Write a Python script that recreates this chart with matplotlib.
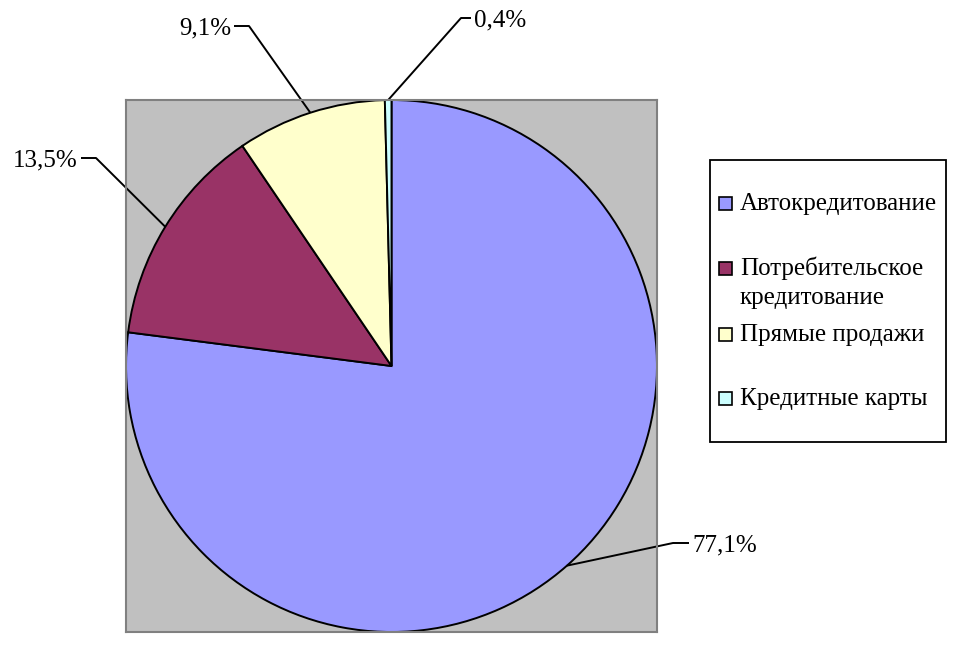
import numpy as np
import matplotlib.pyplot as plt
from matplotlib.patches import Rectangle

###########################################################################################
############### DATA
labels = ['Автокредитование', 'Потребительское\nкредитование', 'Прямые продажи', 'Кредитные карты']
shares = [77.1, 13.5, 9.1, 0.4]
pct_text = ['77,1%', '13,5%', '9,1%', '0,4%']
colors = ['#9999FF', '#993366', '#FFFFCC', '#CCFFFF']

## leader layout in pixels: elbow x,y , end x , text side
leader = [(673, 543, 689, 'left'),
          (96, 158, 81, 'right'),
          (249, 26, 234, 'right'),
          (461, 18, 471, 'left')]

###########################################################################################
############### PLOT
plt.rcParams['font.family'] = ['Liberation Serif', 'DejaVu Serif']
W, H = 959, 651
fig = plt.figure(figsize=(W/100., H/100.), dpi=100)

## plot area = grey square
x0, x1, y0, y1 = 126, 657, 100, 632
ax = fig.add_axes([x0/W, 1 - y1/H, (x1-x0)/W, (y1-y0)/H])
ax.set_facecolor('#C0C0C0')

wedges, _ = ax.pie(shares, colors=colors, startangle=90, counterclock=False,
                   frame=True, radius=1.0,
                   wedgeprops=dict(edgecolor='black', linewidth=1.4))
ax.set_xlim(-1, 1)
ax.set_ylim(-1, 1)
ax.set_aspect('auto')
ax.set_xticks([])
ax.set_yticks([])
for s in ax.spines.values():
	s.set_color('#808080')
	s.set_linewidth(1.5)

def to_data(px, py):
	return ((px - x0) / (x1 - x0) * 2 - 1, 1 - (py - y0) / (y1 - y0) * 2)

## leader lines + percentage labels
for w, txt, (ex, ey, tx, side) in zip(wedges, pct_text, leader):
	mid = np.deg2rad((w.theta1 + w.theta2) / 2.)
	ax_, ay_ = np.cos(mid), np.sin(mid)
	exd, eyd = to_data(ex, ey)
	txd, _ = to_data(tx, ey)
	ax.plot([ax_, exd, txd], [ay_, eyd, eyd], color='black', lw=1.4,
	        clip_on=False, solid_capstyle='butt')
	off = 3 if side == 'left' else -3
	ax.text(txd + off/(x1-x0)*2, eyd, txt, ha=side, va='center_baseline',
	        fontsize=18, clip_on=False)

### legend drawn by hand (Excel style)
fig.patches.append(Rectangle((710/W, 1 - 442/H), 236/W, 282/H, transform=fig.transFigure,
                             facecolor='white', edgecolor='black', lw=1.3))
leg_y = [203, 268, 334, 398]
for lab, c, py in zip(labels, colors, leg_y):
	fig.patches.append(Rectangle((719/W, 1 - (py+7)/H), 13/W, 13/H, transform=fig.transFigure,
	                             facecolor=c, edgecolor='black', lw=1.2))
	for i, line in enumerate(lab.split('\n')):
		fig.text(740/W, 1 - (py + 7 + 29*i)/H, line, ha='left', va='baseline',
		         fontsize=18)

fig.savefig('out.png', dpi=100)
plt.close()
